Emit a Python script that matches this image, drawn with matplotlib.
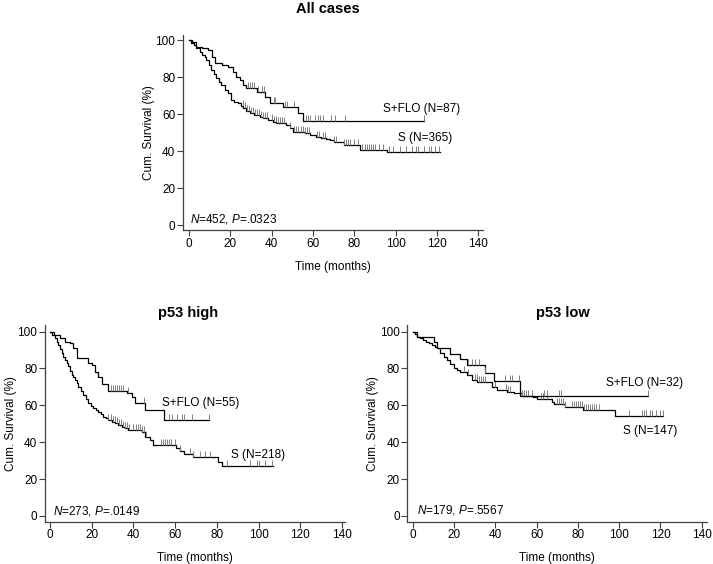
import matplotlib
matplotlib.use("Agg")
import matplotlib.pyplot as plt
import numpy as np

plt.rcParams['font.family'] = ['Liberation Sans', 'DejaVu Sans']
plt.rcParams['mathtext.fontset'] = 'custom'
plt.rcParams['mathtext.rm'] = 'Liberation Sans'
plt.rcParams['mathtext.it'] = 'Liberation Sans:italic'

# ---- All cases ----
all_flo_t = [0, 1.5, 3.5, 6.5, 9.2, 11.0, 12.4, 16.0, 18.9, 21.3, 22.9, 24.5, 26.2, 27.8, 33.0,
             36.7, 39.1, 45.5, 52.8, 55.2, 114]
all_flo_s = [100, 98.8, 96.4, 95.5, 94.6, 91.0, 87.4, 86.5, 85.6, 82.9, 80.2, 78.4, 75.7, 73.9, 71.8,
             69.4, 65.8, 63.8, 60.4, 56.3, 56.3]
all_flo_cens = [28.5, 29.5, 30.5, 31.5, 33.5, 35.5, 36.5, 41.0, 41.8, 46.5, 47.5, 51.0, 56.5, 57.5,
                58.6, 61.0, 62.6, 63.4, 65.0, 69.0, 70.7, 75.5, 114]

all_s_t = [0, 1.0, 2.5, 3.5, 5.2, 6.5, 7.5, 8.4, 9.5, 10.8, 12.0, 13.2, 14.5, 15.7, 17.3, 18.9, 20.5,
           22.0, 23.7, 25.0, 26.2, 27.8, 29.4, 31.5, 34.2, 36.0, 38.3, 40.5, 42.3, 47.2, 48.8, 50.4,
           56.0, 58.5, 61.7, 64.0, 66.5, 68.1, 70.0, 75.0, 82.8, 96.0, 121.6]
all_s_s = [100, 98.6, 97.2, 95.5, 93.7, 92.0, 90.6, 89.2, 86.5, 83.8, 81.5, 79.3, 77.5, 75.7, 73.0,
           71.2, 67.6, 66.7, 65.8, 64.5, 63.1, 61.8, 60.4, 59.5, 58.6, 57.7, 56.8, 55.9, 55.0, 54.1,
           52.3, 50.5, 49.5, 48.6, 47.7, 46.8, 46.3, 45.9, 44.8, 43.5, 40.5, 39.5, 39.5]
all_s_cens = [26, 27, 28, 29, 30, 31, 32, 33, 34, 35, 36, 37, 38, 40, 41, 42, 43, 44, 45, 46, 49, 51,
              52, 53, 54, 55, 56, 57, 58, 62, 63, 65, 66, 70, 71, 75, 76, 77, 78, 80, 82, 84, 85, 86,
              87, 88, 89, 90, 92, 94, 97, 99, 102, 105, 108, 110, 111, 114, 116, 117, 119, 121]

# ---- p53 high ----
hi_flo_t = [0, 2.0, 4.8, 7.0, 9.6, 11.2, 12.8, 18.4, 20.0, 21.6, 23.2, 24.8, 28.0, 36.8, 39.1, 40.7,
            45.5, 54.8, 76]
hi_flo_s = [100, 98.2, 96.4, 94.6, 93.6, 91.0, 85.5, 82.8, 81.9, 78.3, 75.6, 71.5, 67.8, 66.6, 64.8,
            61.1, 57.5, 52.0, 52.0]
hi_flo_cens = [29, 30, 31, 32, 33, 34, 35, 37.5, 45, 56.8, 58.4, 60.8, 63.2, 64.0, 68.0, 76]

hi_s_t = [0, 1.0, 2.4, 3.2, 4.0, 4.8, 5.6, 6.4, 7.2, 8.0, 8.8, 9.6, 10.4, 11.2, 12.0, 12.8, 13.6,
          14.8, 16.0, 17.2, 18.4, 19.6, 20.8, 22.0, 23.2, 24.4, 25.6, 26.8, 28.0, 29.6, 31.2, 32.8,
          34.4, 36.0, 37.6, 44.0, 45.5, 47.9, 49.5, 60.5, 62.3, 64.0, 68.5, 80.7, 82.3, 107]
hi_s_s = [100, 98.2, 96.4, 94.6, 92.8, 90.5, 88.3, 86.5, 84.7, 82.9, 81.1, 78.8, 76.5, 75.2, 73.8,
          72.0, 70.2, 67.9, 65.6, 63.3, 61.1, 59.7, 58.4, 57.5, 56.6, 55.2, 53.9, 53.0, 52.1, 51.2,
          50.3, 49.4, 48.5, 47.5, 46.6, 45.8, 43.1, 41.3, 38.5, 36.8, 35.0, 33.6, 31.8, 29.5, 27.0, 27.0]
hi_s_cens = [28, 29, 30, 31, 32, 33, 34, 35, 36, 37, 38, 40, 41, 42, 43, 44, 45, 46, 53, 54, 55, 56,
             57, 58, 60, 62.5, 67, 68.7, 71.9, 74.3, 76.7, 84.8, 96, 99.2, 100, 103.2, 106.4]

# ---- p53 low ----
lo_flo_t = [0, 2.1, 10.2, 11.8, 18.2, 23.1, 26.3, 35.2, 39.2, 52.1, 114]
lo_flo_s = [100, 97.3, 94.6, 91.0, 87.9, 84.9, 81.9, 77.4, 73.0, 65.2, 65.2]
lo_flo_cens = [27, 28.7, 30.3, 31.9, 35.2, 44.9, 47.3, 48.1, 51.3, 63.7, 65.3, 70.9, 71.7, 114]

lo_s_t = [0, 1.0, 2.0, 3.5, 5.0, 6.5, 8.0, 9.5, 11.0, 11.8, 13.4, 15.0, 16.5, 18.2, 19.8, 21.5, 23.1,
          26.3, 28.7, 31.2, 38.4, 40.8, 45.7, 48.9, 52.9, 58.5, 60.0, 67.3, 68.3, 73.8, 82.7, 98.0,
          121.4]
lo_s_s = [100, 98.6, 97.3, 96.4, 95.5, 94.6, 93.7, 92.8, 91.9, 91.0, 88.2, 86.5, 84.5, 82.2, 80.1,
          79.2, 78.3, 76.5, 73.8, 72.9, 70.1, 68.3, 67.5, 66.6, 65.3, 64.7, 63.3, 62.0, 60.8, 59.3,
          57.5, 54.3, 54.3]
lo_s_cens = [25, 27, 30, 31, 32, 33, 34, 35, 40, 45, 46, 47, 53, 54, 55, 56, 58, 62, 63, 65, 70, 71,
             72, 73, 74, 77, 78, 79, 80, 81, 82, 83, 84, 85, 86, 87, 88, 89, 90, 105, 111, 112, 113,
             115, 116, 118, 120, 121]


def km(ax, t, s, cens):
    t = np.array(t)
    s = np.array(s)
    ax.step(t, s, where='post', color='black', lw=0.9)
    c = np.array(cens)
    idx = np.searchsorted(t, c, side='right') - 1
    ax.plot(c, s[idx], linestyle='none', marker=2, markersize=4,
            markeredgewidth=0.7, color='#808080')


def style(ax, xmin, xmax, ymin, ymax):
    ax.set_xlim(xmin, xmax)
    ax.set_ylim(ymin, ymax)
    ax.set_xticks(range(0, 141, 20))
    ax.set_yticks(range(0, 101, 20))
    for sp in ['top', 'right']:
        ax.spines[sp].set_visible(False)
    for sp in ['left', 'bottom']:
        ax.spines[sp].set_color('#404040')
        ax.spines[sp].set_linewidth(0.9)
    ax.tick_params(direction='out', length=4, width=0.8, color='#404040', labelsize=8.5, pad=1.5)
    ax.set_xlabel('Time (months)', fontsize=8.5, labelpad=8)
    ax.set_ylabel('Cum. Survival (%)', fontsize=8.5, labelpad=0.5)


fig = plt.figure(figsize=(7.13, 5.64), dpi=100)

ax1 = fig.add_axes([0.2567, 0.5922, 0.4208, 0.3457])
km(ax1, all_s_t, all_s_s, all_s_cens)
km(ax1, all_flo_t, all_flo_s, all_flo_cens)
style(ax1, -2.9, 142.4, -2.7, 102.7)
ax1.text(94, 62.7, 'S+FLO (N=87)', fontsize=8.5, va='center')
ax1.text(101, 47, 'S (N=365)', fontsize=8.5, va='center')
ax1.text(0.5, 3, r'$N$=452, $P$=.0323', fontsize=8.5, va='center')

ax2 = fig.add_axes([0.0631, 0.075, 0.4208, 0.3488])
km(ax2, hi_s_t, hi_s_s, hi_s_cens)
km(ax2, hi_flo_t, hi_flo_s, hi_flo_cens)
style(ax2, -2.4, 141.4, -3.1, 103.6)
ax2.text(53.7, 61.3, 'S+FLO (N=55)', fontsize=8.5, va='center')
ax2.text(86.8, 33.1, 'S (N=218)', fontsize=8.5, va='center')
ax2.text(1.5, 2.9, r'$N$=273, $P$=.0149', fontsize=8.5, va='center')

ax3 = fig.add_axes([0.5712, 0.075, 0.42, 0.3488])
km(ax3, lo_s_t, lo_s_s, lo_s_cens)
km(ax3, lo_flo_t, lo_flo_s, lo_flo_cens)
style(ax3, -2.6, 142.4, -3.1, 103.6)
ax3.text(93.5, 72, 'S+FLO (N=32)', fontsize=8.5, va='center')
ax3.text(102, 46.3, 'S (N=147)', fontsize=8.5, va='center')
ax3.text(2.2, 3, r'$N$=179, $P$=.5567', fontsize=8.5, va='center')

fig.text(328 / 713, 1 - 9 / 564, 'All cases', ha='center', va='center', fontsize=10.5, fontweight='bold')
fig.text(188 / 713, 1 - 313 / 564, 'p53 high', ha='center', va='center', fontsize=10.5, fontweight='bold')
fig.text(563 / 713, 1 - 313 / 564, 'p53 low', ha='center', va='center', fontsize=10.5, fontweight='bold')

fig.savefig('out.png', dpi=100)
